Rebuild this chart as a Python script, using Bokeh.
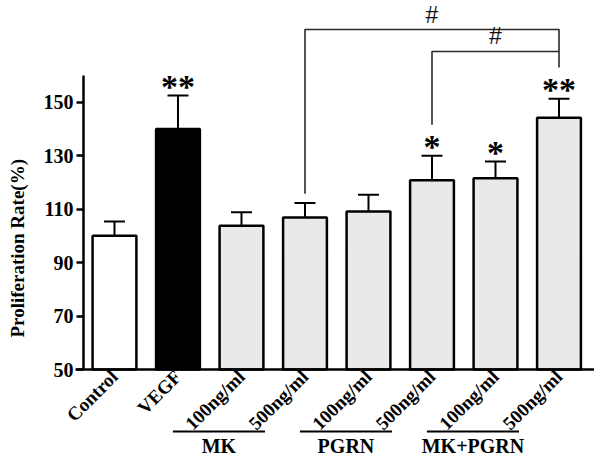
import math
from bokeh.plotting import figure
from bokeh.models import Range1d, FixedTicker, ColumnDataSource, Title
from bokeh.core.properties import value
from bokeh.embed import file_html
from bokeh.resources import INLINE

# ---- data ----
categories = ["Control", "VEGF", "100ng/ml", "500ng/ml", "100ng/ml", "500ng/ml", "100ng/ml", "500ng/ml"]
means = [100.0, 140.0, 103.8, 106.9, 109.1, 120.8, 121.6, 144.2]
errors = [5.4, 12.5, 5.0, 5.4, 6.3, 9.2, 6.2, 7.1]
fill_colors = ["white", "black", "#e9e9e9", "#e9e9e9", "#e9e9e9", "#e9e9e9", "#e9e9e9", "#e9e9e9"]
stars = ["", "**", "", "", "", "*", "*", "**"]

groups = ["MK", "PGRN", "MK+PGRN"]
group_first = [2, 4, 6]

y_ticks = [50, 70, 90, 110, 130, 150]

bracket_left = [3, 5]
bracket_right = [7, 7]
bracket_level = [177.2, 169.0]
bracket_left_bottom = [115.8, 141.6]
bracket_right_bottom = [163.0, 169.0]
bracket_mark = ["#", "#"]

# ---- derived ----
xs = list(range(len(categories)))
tops = [m + e for m, e in zip(means, errors)]
BASE = 50
FONT = "Liberation Serif"

p = figure(width=594, height=456, output_backend="svg", toolbar_location=None,
           x_range=Range1d(-1.354, 7.559), y_range=Range1d(17.45, 188.06),
           min_border_left=28, min_border_right=0, min_border_top=0, min_border_bottom=0)
p.outline_line_color = None
p.xgrid.visible = False
p.ygrid.visible = False

# error bars
cap = 0.165
p.segment(x0=xs, y0=means, x1=xs, y1=tops, line_color="black", line_width=2)
p.segment(x0=[x - cap for x in xs], y0=tops, x1=[x + cap for x in xs], y1=tops,
          line_color="black", line_width=2)

# bars
src = ColumnDataSource(dict(x=xs, top=means, fill=fill_colors))
p.vbar(x="x", top="top", bottom=BASE, width=0.69, source=src, fill_color="fill",
       line_color="black", line_width=2.5)

# significance stars
p.text(x=xs, y=tops, text=stars, text_align="center", text_baseline="alphabetic",
       y_offset=-9, text_font=value(FONT), text_font_style="bold", text_font_size="34px",
       text_color="black")

# comparison brackets
bx, by = [], []
for l, r, lev, lb, rb in zip(bracket_left, bracket_right, bracket_level, bracket_left_bottom, bracket_right_bottom):
    bx.append([l, l, r, r])
    by.append([lb, lev, lev, rb])
p.multi_line(xs=bx, ys=by, line_color="#2a2a2a", line_width=1.6)
p.text(x=[(l + r) / 2 for l, r in zip(bracket_left, bracket_right)], y=bracket_level,
       text=bracket_mark, text_align="center", text_baseline="alphabetic", y_offset=-15,
       text_font=value("Liberation Sans"), text_font_size="23px", text_color="#111111")

# group labels
g0 = [g - 1.08 for g in group_first]
g1 = [g + 1.45 for g in g0]
p.segment(x0=g0, y0=[26.8] * len(groups), x1=g1, y1=[26.8] * len(groups),
          line_color="black", line_width=2)
p.text(x=[(a + b) / 2 for a, b in zip(g0, g1)], y=[21.2] * len(groups), text=groups,
       text_align="center", text_baseline="middle", text_font=value(FONT),
       text_font_style="bold", text_font_size="20px", text_color="black")

# y axis (fixed inside the frame)
ya = p.yaxis[0]
ya.fixed_location = -0.488
ya.bounds = (50, 160)
ya.ticker = FixedTicker(ticks=y_ticks)
ya.axis_line_width = 2.5
ya.major_tick_line_width = 2.5
ya.major_tick_out = 7
ya.major_tick_in = 0
ya.minor_tick_line_color = None
ya.major_label_standoff = 3
ya.major_label_text_font = FONT
ya.major_label_text_font_style = "bold"
ya.major_label_text_font_size = "20px"
ya.major_label_text_color = "black"

# x axis (fixed at the bar base)
xa = p.xaxis[0]
xa.fixed_location = BASE
xa.bounds = (-0.614, 7.56)
xa.ticker = FixedTicker(ticks=xs)
xa.major_label_overrides = {i: c for i, c in zip(xs, categories)}
xa.axis_line_width = 2.5
xa.major_tick_line_color = None
xa.major_tick_out = 0
xa.major_tick_in = 0
xa.minor_tick_line_color = None
xa.major_label_standoff = 4
xa.major_label_orientation = math.pi / 4
xa.major_label_text_font = FONT
xa.major_label_text_font_style = "bold"
xa.major_label_text_font_size = "19px"
xa.major_label_text_color = "black"

p.add_layout(Title(text="Proliferation Rate(%)", align="left", offset=119, standoff=2,
                   text_font=FONT, text_font_style="bold", text_font_size="19px",
                   text_color="black"), "left")

open("out.html", "w").write(file_html(p, INLINE))
